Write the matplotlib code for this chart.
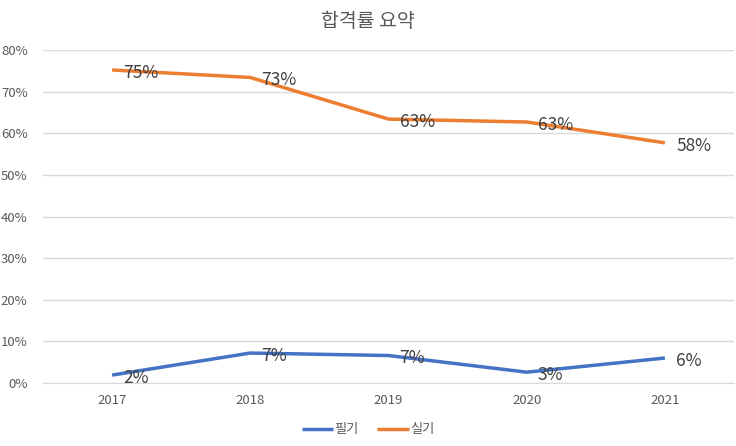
import matplotlib.pyplot as plt
from matplotlib.ticker import PercentFormatter

plt.rcParams['font.family'] = ['Noto Sans CJK KR', 'DejaVu Sans']

years = ["2017", "2018", "2019", "2020", "2021"]
written = [0.019, 0.072, 0.066, 0.026, 0.060]    # 필기
practical = [0.752, 0.734, 0.634, 0.627, 0.577]  # 실기

fig = plt.figure(figsize=(7.36, 4.46), dpi=100)
ax = fig.add_axes([43 / 736, 1 - 383 / 446, 691 / 736, 333 / 446])

x = range(len(years))
ax.plot(x, written, color="#4472C4", lw=2.5, label="필기", solid_capstyle="butt")
ax.plot(x, practical, color="#ED7D31", lw=2.5, label="실기", solid_capstyle="butt")

for series in (written, practical):
    for i, v in zip(x, series):
        ax.annotate(f"{v * 100:.0f}%", (i, v), xytext=(8, -2), textcoords="offset points",
                    ha="left", va="center", fontsize=12.5, color="#404040")

ax.set_xlim(-0.5, len(years) - 0.5)
ax.set_ylim(0, 0.8)
ax.set_yticks([i / 10 for i in range(9)])
ax.yaxis.set_major_formatter(PercentFormatter(1.0, decimals=0))
ax.set_xticks(list(x))
ax.set_xticklabels(years)
ax.grid(axis="y", color="#D9D9D9", lw=1)
ax.set_axisbelow(True)
for s in ("top", "right", "left"):
    ax.spines[s].set_visible(False)
ax.spines["bottom"].set_color("#D9D9D9")
ax.tick_params(length=0, labelsize=9.5, labelcolor="#595959", pad=8)
ax.tick_params(axis="y", pad=11)

fig.suptitle("합격률 요약", y=0.975, fontsize=14, color="#595959")
fig.legend(loc="lower center", bbox_to_anchor=(0.5, -0.005), ncol=2, frameon=False,
           fontsize=9.5, labelcolor="#595959", handlelength=2.4, handletextpad=0.1,
           columnspacing=1.4)

fig.savefig("out.png", dpi=100)
